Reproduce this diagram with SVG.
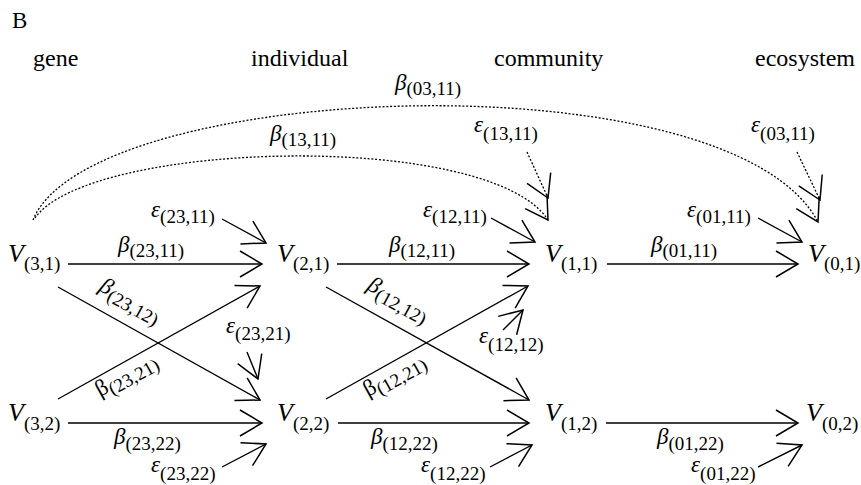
<svg xmlns="http://www.w3.org/2000/svg" width="861" height="485" viewBox="0 0 861 485">
<style>
text{font-family:'Liberation Serif','Times New Roman',serif;fill:#000}
.lvl{font-size:24px}
.v{font-size:26px;font-style:italic}
.g{font-size:23px;font-style:italic}
.gu{font-size:23px}
.s{font-size:19px;font-style:normal}
.ln{stroke:#000;stroke-width:1.4;fill:none;marker-end:url(#ah)}
.dl{stroke:#000;stroke-width:1.3;fill:none;stroke-dasharray:2 1.8;marker-end:url(#ah)}
</style>
<defs>
<marker id="ah" markerUnits="userSpaceOnUse" viewBox="-26 -16 28 32" markerWidth="28" markerHeight="32" refX="0" refY="0" orient="auto" overflow="visible">
<path d="M-22,-13 L0,0 L-22,13" fill="none" stroke="#000" stroke-width="1.5" stroke-dasharray="none"/>
</marker>
</defs>
<rect width="861" height="485" fill="#fff"/>
<text x="12" y="28" font-size="23">B</text>
<text class="lvl" x="33" y="66">gene</text>
<text class="lvl" x="251" y="66">individual</text>
<text class="lvl" x="494" y="66">community</text>
<text class="lvl" x="755" y="66">ecosystem</text>

<g id="connectors">
<path class="dl" d="M33,220 C90,80 730,55 818,222"/>
<path class="dl" d="M35,218 C90,140 490,130 548,220"/>
<line class="dl" x1="527" y1="152" x2="548" y2="198"/>
<line class="dl" x1="797" y1="152" x2="820" y2="200"/>
<line class="ln" x1="68" y1="264" x2="262" y2="264"/>
<line class="ln" x1="337" y1="264" x2="529" y2="264"/>
<line class="ln" x1="607" y1="264" x2="798" y2="264"/>
<line class="ln" x1="68" y1="423" x2="262" y2="423"/>
<line class="ln" x1="338" y1="423" x2="529" y2="423"/>
<line class="ln" x1="606" y1="423" x2="798" y2="423"/>
<line class="ln" x1="58" y1="287" x2="260" y2="400"/>
<line class="ln" x1="58" y1="399" x2="260" y2="286"/>
<line class="ln" x1="326" y1="287" x2="529" y2="400"/>
<line class="ln" x1="326" y1="399" x2="528" y2="286"/>
<line class="ln" x1="222" y1="219" x2="266" y2="243"/>
<line class="ln" x1="247" y1="352" x2="258" y2="379"/>
<line class="ln" x1="222" y1="467" x2="266" y2="444"/>
<line class="ln" x1="491" y1="218" x2="535" y2="242"/>
<line class="ln" x1="503" y1="330" x2="523" y2="310"/>
<line class="ln" x1="490" y1="467" x2="532" y2="445"/>
<line class="ln" x1="758" y1="218" x2="802" y2="242"/>
<line class="ln" x1="758" y1="467" x2="802" y2="445"/>
</g>

<g id="labels">
<text class="g" x="395" y="90">β<tspan class="s" dy="5">(03,11)</tspan></text>
<text class="g" x="270" y="141">β<tspan class="s" dy="5">(13,11)</tspan></text>
<text class="g" x="474" y="132">ε<tspan class="s" dy="8">(13,11)</tspan></text>
<text class="g" x="751" y="132">ε<tspan class="s" dy="8">(03,11)</tspan></text>
<text class="g" x="151" y="217">ε<tspan class="s" dy="6">(23,11)</tspan></text>
<text class="g" x="423" y="217">ε<tspan class="s" dy="6">(12,11)</tspan></text>
<text class="g" x="687" y="217">ε<tspan class="s" dy="6">(01,11)</tspan></text>
<text class="g" x="118" y="252">β<tspan class="s" dy="5">(23,11)</tspan></text>
<text class="g" x="389" y="252">β<tspan class="s" dy="5">(12,11)</tspan></text>
<text class="g" x="651" y="252">β<tspan class="s" dy="5">(01,11)</tspan></text>
<text class="g" transform="translate(98,290) rotate(29)">β<tspan class="s" dy="5">(23,12)</tspan></text>
<text class="gu" transform="translate(100,397) rotate(-29)">β<tspan class="s" dy="5">(23,21)</tspan></text>
<text class="g" transform="translate(366,289) rotate(29)">β<tspan class="s" dy="5">(12,12)</tspan></text>
<text class="gu" transform="translate(368,397) rotate(-29)">β<tspan class="s" dy="5">(12,21)</tspan></text>
<text class="g" x="226" y="333">ε<tspan class="s" dy="7">(23,21)</tspan></text>
<text class="g" x="479" y="343">ε<tspan class="s" dy="8">(12,12)</tspan></text>
<text class="g" x="114" y="444">β<tspan class="s" dy="6">(23,22)</tspan></text>
<text class="g" x="371" y="444">β<tspan class="s" dy="6">(12,22)</tspan></text>
<text class="g" x="657" y="444">β<tspan class="s" dy="6">(01,22)</tspan></text>
<text class="g" x="151" y="472">ε<tspan class="s" dy="8">(23,22)</tspan></text>
<text class="g" x="421" y="472">ε<tspan class="s" dy="8">(12,22)</tspan></text>
<text class="g" x="691" y="472">ε<tspan class="s" dy="8">(01,22)</tspan></text>
</g>

<g id="V31"><text class="v" x="8" y="262">V<tspan class="s" dy="8">(3,1)</tspan></text></g>
<g id="V21"><text class="v" x="277" y="262">V<tspan class="s" dy="8">(2,1)</tspan></text></g>
<g id="V11"><text class="v" x="545" y="262">V<tspan class="s" dy="8">(1,1)</tspan></text></g>
<g id="V01"><text class="v" x="808" y="262">V<tspan class="s" dy="8">(0,1)</tspan></text></g>
<g id="V32"><text class="v" x="8" y="421">V<tspan class="s" dy="9">(3,2)</tspan></text></g>
<g id="V22"><text class="v" x="277" y="421">V<tspan class="s" dy="9">(2,2)</tspan></text></g>
<g id="V12"><text class="v" x="545" y="421">V<tspan class="s" dy="9">(1,2)</tspan></text></g>
<g id="V02"><text class="v" x="806" y="421">V<tspan class="s" dy="9">(0,2)</tspan></text></g>
</svg>
